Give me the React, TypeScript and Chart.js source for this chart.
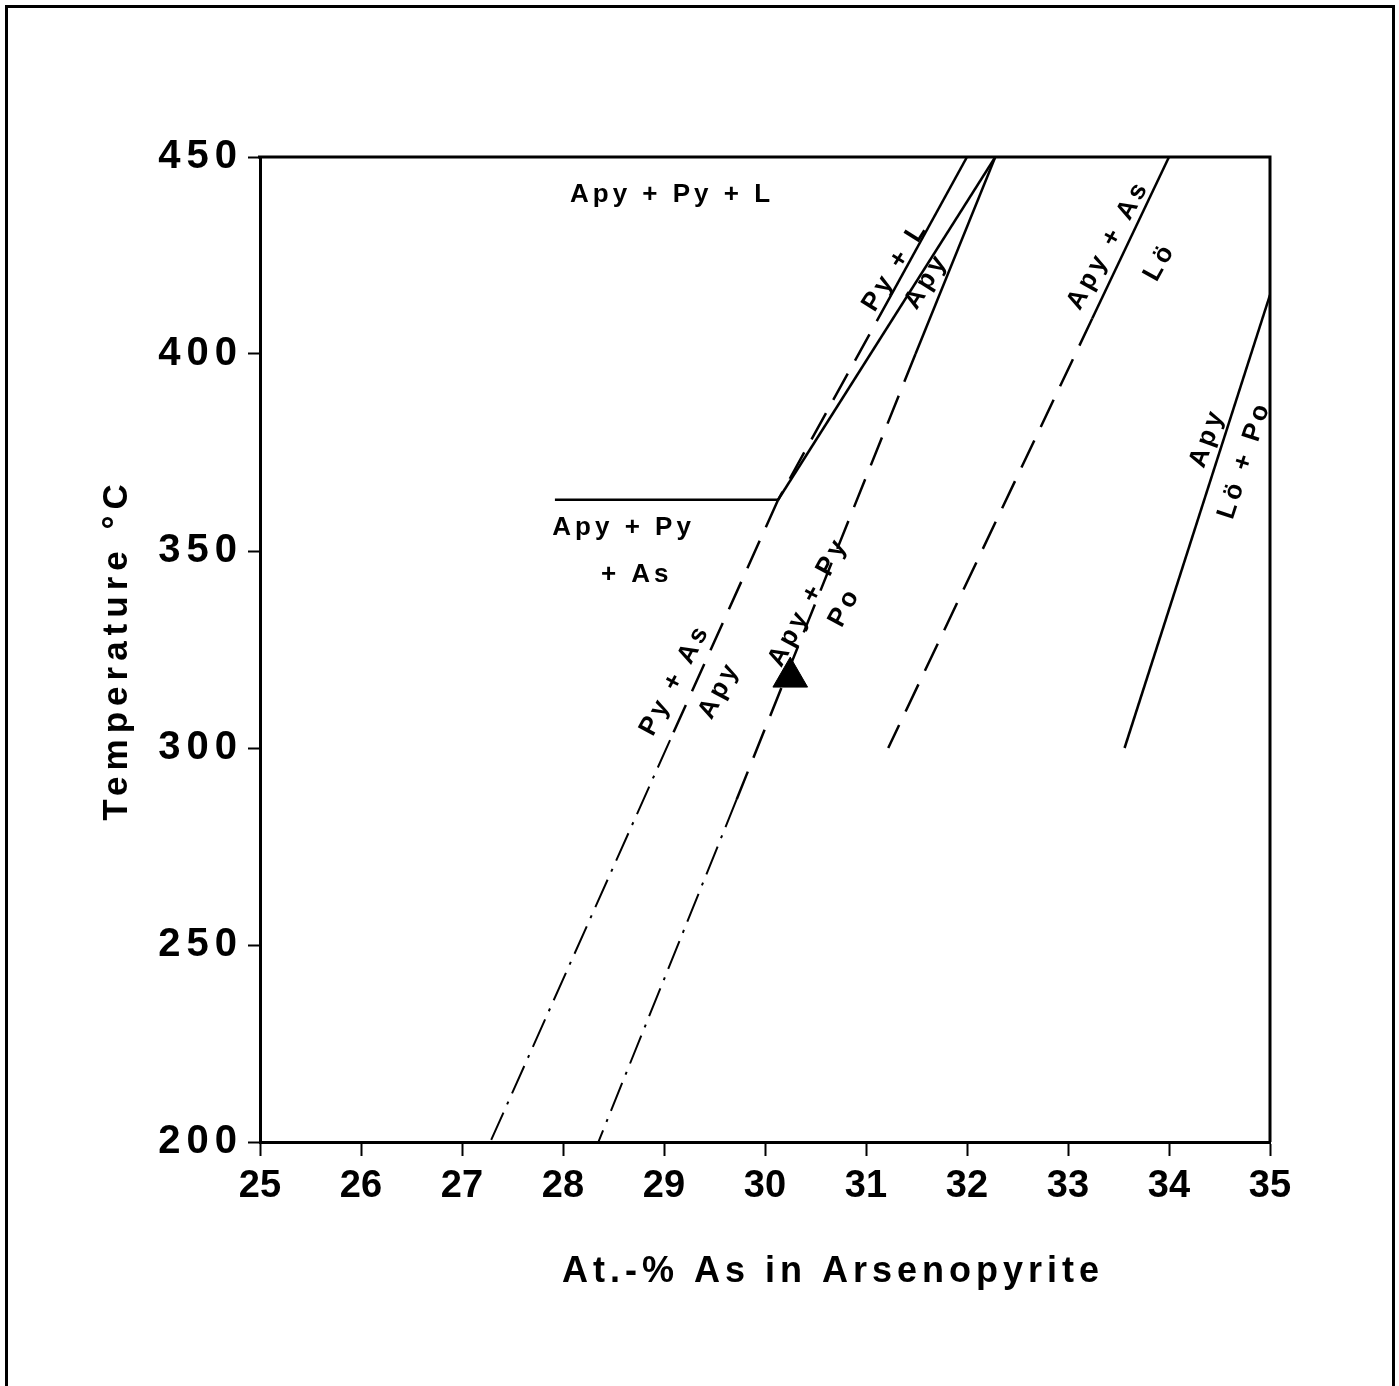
import React, { useEffect, useRef } from 'react';
import { Chart, registerables } from 'chart.js';

Chart.register(...registerables);

// ---- axis ranges / ticks ----
const xRange = [25, 35];
const yRange = [200, 450];
const xStep = 1;
const yStep = 50;

// ---- phase boundary lines (At.-% As, °C) ----
const pyLSolid = [{ x: 32.0, y: 450 }, { x: 31.25, y: 415 }];
const pyLDashed = [{ x: 31.25, y: 415 }, { x: 30.13, y: 363 }];
const apyLSolid = [{ x: 32.28, y: 450 }, { x: 30.13, y: 363 }];
const asInvariant = [{ x: 27.92, y: 363 }, { x: 30.13, y: 363 }];
const pyAsDashed = [{ x: 30.13, y: 363 }, { x: 29.06, y: 302 }];
const pyAsDashDot = [{ x: 29.06, y: 302 }, { x: 27.28, y: 200 }];
const apyPoSolid = [{ x: 32.28, y: 450 }, { x: 31.49, y: 400 }];
const apyPoDashed = [{ x: 31.49, y: 400 }, { x: 29.72, y: 287 }];
const apyPoDashDot = [{ x: 29.72, y: 287 }, { x: 28.35, y: 200 }];
const loAsSolid = [{ x: 34.0, y: 450 }, { x: 33.24, y: 409 }];
const loAsDashed = [{ x: 33.24, y: 409 }, { x: 31.22, y: 300 }];
const loPoSolid = [{ x: 35.0, y: 415 }, { x: 33.56, y: 300 }];
const triangleMarker = [{ x: 30.25, y: 318 }];

// ---- field labels ----
const labelTexts = ['Apy + Py + L', 'Apy + Py', '+ As', 'Py + L', 'Apy', 'Apy + As', 'Lö', 'Apy', 'Lö + Po', 'Py + As', 'Apy', 'Apy + Py', 'Po'];
const labelX = [29.06, 28.58, 28.71, 31.27, 31.58, 33.38, 33.89, 34.36, 34.73, 29.09, 29.53, 30.41, 30.77];
const labelY = [440.4, 355.8, 343.9, 422.3, 418.5, 427.7, 423.4, 378.7, 373.1, 317.3, 314.7, 337.1, 335.8];
const labelAngle = [0, 0, 0, -58, -58, -61, -61, -70, -72, -62, -62, -62, -62];

const yTitle = 'Temperature °C';
const xTitle = 'At.-% As in Arsenopyrite';

const FONT = "'Liberation Sans', Arial, Helvetica, sans-serif";
const DASH = [30, 15];
const DASHDOT = [30, 9, 3, 9];

const line = (data: any[], width: number, dash: number[] = []) => ({
  data,
  showLine: true,
  borderColor: '#000',
  borderWidth: width,
  borderDash: dash,
  pointRadius: 0,
  pointHoverRadius: 0,
  fill: false,
});

const annotationPlugin = {
  id: 'annotations',
  afterDatasetsDraw(chart: any) {
    // y-axis labels and title (drawn after datasets) use wide letter spacing like the original
    chart.ctx.letterSpacing = '6px';
  },
  afterDraw(chart: any) {
    const { ctx, chartArea, scales } = chart;
    const xs = scales.x;
    const ys = scales.y;
    ctx.save();
    ctx.strokeStyle = '#000';
    ctx.lineWidth = 3;
    ctx.beginPath();
    ctx.moveTo(chartArea.left - 2, chartArea.top);
    ctx.lineTo(chartArea.right, chartArea.top);
    ctx.lineTo(chartArea.right, chartArea.bottom);
    ctx.stroke();

    ctx.fillStyle = '#000';
    ctx.textAlign = 'center';
    ctx.textBaseline = 'middle';
    ctx.letterSpacing = '4px';
    ctx.font = `bold 26px ${FONT}`;
    labelTexts.forEach((t, i) => {
      const px = xs.getPixelForValue(labelX[i]);
      const py = ys.getPixelForValue(labelY[i]);
      ctx.save();
      ctx.translate(px + 2, py);
      ctx.rotate((labelAngle[i] * Math.PI) / 180);
      ctx.fillText(t, 0, 0);
      ctx.restore();
    });

    ctx.letterSpacing = '5px';
    ctx.font = `bold 36px ${FONT}`;
    ctx.fillText(xTitle, chartArea.left + 573, chartArea.bottom + 130);
    ctx.restore();
    ctx.letterSpacing = '0px';
  },
};

export default function App() {
  const ref = useRef<HTMLCanvasElement | null>(null);

  useEffect(() => {
    if (!ref.current) return;
    Chart.defaults.font.family = FONT;
    const chart = new Chart(ref.current, {
      type: 'scatter',
      data: {
        datasets: [
          line(pyLSolid, 2.5),
          line(pyLDashed, 2.5, DASH),
          line(apyLSolid, 2.5),
          line(asInvariant, 2.5),
          line(pyAsDashed, 2.5, DASH),
          line(pyAsDashDot, 2, DASHDOT),
          line(apyPoSolid, 2.5),
          line(apyPoDashed, 2.5, DASH),
          line(apyPoDashDot, 2, DASHDOT),
          line(loAsSolid, 2.5),
          line(loAsDashed, 2.5, DASH),
          line(loPoSolid, 2.5),
          {
            data: triangleMarker,
            showLine: false,
            pointStyle: 'triangle',
            pointRadius: 20,
            pointHoverRadius: 20,
            pointBackgroundColor: '#000',
            pointBorderColor: '#000',
            pointBorderWidth: 1,
          },
        ],
      },
      options: {
        responsive: false,
        animation: false,
        events: [],
        layout: { padding: { left: 0, top: 157, right: 129, bottom: 0 } },
        plugins: { legend: { display: false }, tooltip: { enabled: false } },
        scales: {
          x: {
            type: 'linear',
            min: xRange[0],
            max: xRange[1],
            afterFit: (s: any) => { s.height = 244; },
            ticks: {
              stepSize: xStep,
              color: '#000',
              padding: 8,
              z: 0,
              font: { size: 38, weight: 'bold', family: FONT },
              maxRotation: 0,
            },
            grid: { display: true, drawOnChartArea: false, color: '#000', tickLength: 14, tickWidth: 2, z: 0 },
            border: { display: true, color: '#000', width: 3, z: 0 },
          },
          y: {
            type: 'linear',
            min: yRange[0],
            max: yRange[1],
            afterFit: (s: any) => { s.width = 260; },
            ticks: {
              stepSize: yStep,
              color: '#000',
              padding: 5,
              z: 1,
              font: { size: 40, weight: 'bold', family: FONT },
            },
            grid: { display: true, drawOnChartArea: false, color: '#000', tickLength: 12, tickWidth: 2, z: 1 },
            border: { display: true, color: '#000', width: 3, z: 1 },
            title: {
              display: true,
              text: yTitle,
              color: '#000',
              font: { size: 35, weight: 'bold', family: FONT },
              padding: { top: 96, bottom: 0 },
            },
          },
        },
      },
      plugins: [annotationPlugin],
    } as any);
    return () => chart.destroy();
  }, []);

  return (
    <div style={{ position: 'absolute', left: 0, top: 0, width: 1399, height: 1386, overflow: 'hidden', background: '#fff' }}>
      <canvas ref={ref} width={1399} height={1386} style={{ display: 'block', width: 1399, height: 1386 }} />
      <div
        style={{
          position: 'absolute',
          left: 5,
          top: 5,
          width: 1390,
          height: 1381,
          boxSizing: 'border-box',
          borderLeft: '3px solid #000',
          borderTop: '3px solid #000',
          borderRight: '3px solid #000',
          pointerEvents: 'none',
        }}
      />
    </div>
  );
}
